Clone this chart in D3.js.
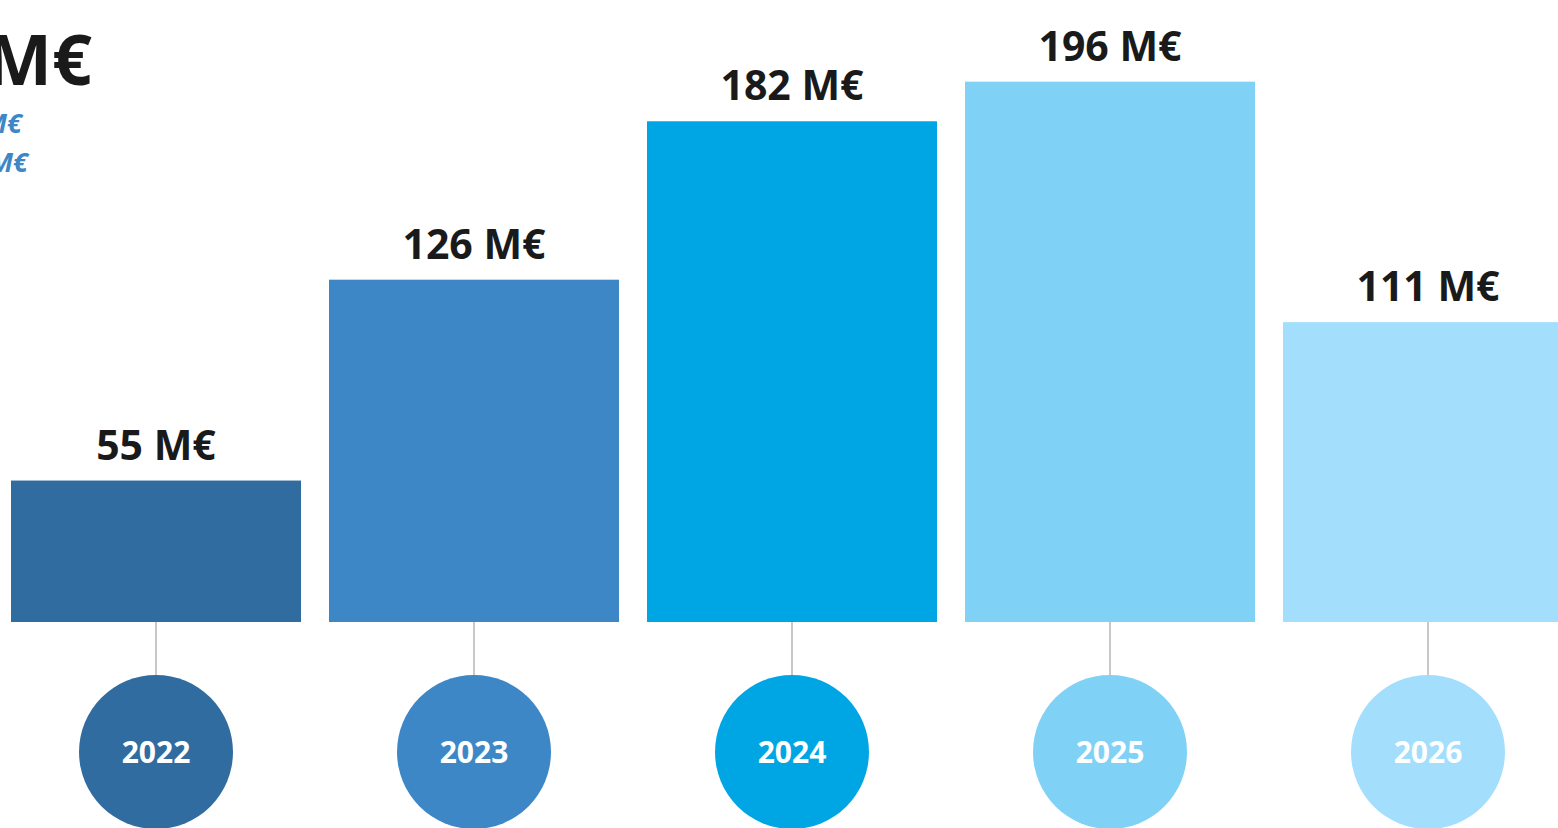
<!DOCTYPE html>
<html>
<head>
<meta charset="utf-8">
<script src="https://cdn.jsdelivr.net/npm/d3@7"></script>
<style>
  html, body { margin: 0; padding: 0; background: #fff; overflow: hidden; }
  svg { display: block; font-family: "Open Sans", sans-serif; }
</style>
</head>
<body>
<svg id="chart" width="1558" height="828"></svg>
<script>
const years = ['2022', '2023', '2024', '2025', '2026'];
const values = [55, 126, 182, 196, 111];
const colors = ['#316ca1', '#3d87c7', '#00a6e4', '#7fd2f5', '#a3defd'];
const valueLabels = ['55 M€', '126 M€', '182 M€', '196 M€', '111 M€'];

const width = 1558, height = 828;
const baseline = 622;
const svg = d3.select('#chart');

// bands: 290 wide bars with 28px gaps, first bar starts at x=11
const step = 318;
const x = d3.scaleBand()
            .domain(years)
            .range([11 - 14, 11 - 14 + 5 * step])
            .paddingInner(28 / step)
            .paddingOuter(14 / step);

// the slide's bars don't start exactly at zero
const y = d3.scaleLinear()
            .domain([5, 200])
            .range([baseline, baseline - 195 * 2.829]);

const data = years.map((yr, i) => ({ year: yr, value: values[i], color: colors[i], label: valueLabels[i] }));

// header text, cut off on the left like the source slide
svg.append('text')
   .attr('x', 92).attr('y', 85)
   .attr('text-anchor', 'end')
   .attr('font-size', 70).attr('font-weight', 700)
   .attr('fill', '#1a1a1a')
   .text('M€');
svg.append('text')
   .attr('x', 22).attr('y', 133)
   .attr('text-anchor', 'end')
   .attr('font-size', 27).attr('font-weight', 700).attr('font-style', 'italic')
   .attr('fill', '#3d87c7')
   .text('M€');
svg.append('text')
   .attr('x', 28).attr('y', 172)
   .attr('text-anchor', 'end')
   .attr('font-size', 27).attr('font-weight', 700).attr('font-style', 'italic')
   .attr('fill', '#3d87c7')
   .text('M€');

const cy = 752, r = 77;

const g = svg.selectAll('g.year')
             .data(data)
             .enter()
             .append('g')
             .attr('class', 'year');

// connector from bar to circle
g.append('line')
 .attr('x1', d => x(d.year) + x.bandwidth() / 2)
 .attr('x2', d => x(d.year) + x.bandwidth() / 2)
 .attr('y1', baseline)
 .attr('y2', cy - r)
 .attr('stroke', '#c8c8c8')
 .attr('stroke-width', 2);

g.append('rect')
 .attr('x', d => x(d.year))
 .attr('width', x.bandwidth())
 .attr('y', d => y(d.value))
 .attr('height', d => baseline - y(d.value))
 .attr('fill', d => d.color);

g.append('text')
 .attr('x', d => x(d.year) + x.bandwidth() / 2)
 .attr('y', d => y(d.value) - 21)
 .attr('text-anchor', 'middle')
 .attr('font-size', 41).attr('font-weight', 700)
 .attr('fill', '#1a1a1a')
 .text(d => d.label);

g.append('circle')
 .attr('cx', d => x(d.year) + x.bandwidth() / 2)
 .attr('cy', cy)
 .attr('r', r)
 .attr('fill', d => d.color);

g.append('text')
 .attr('x', d => x(d.year) + x.bandwidth() / 2)
 .attr('y', cy + 11)
 .attr('text-anchor', 'middle')
 .attr('font-size', 30).attr('font-weight', 700)
 .attr('fill', '#fff')
 .text(d => d.year);
</script>
</body>
</html>
